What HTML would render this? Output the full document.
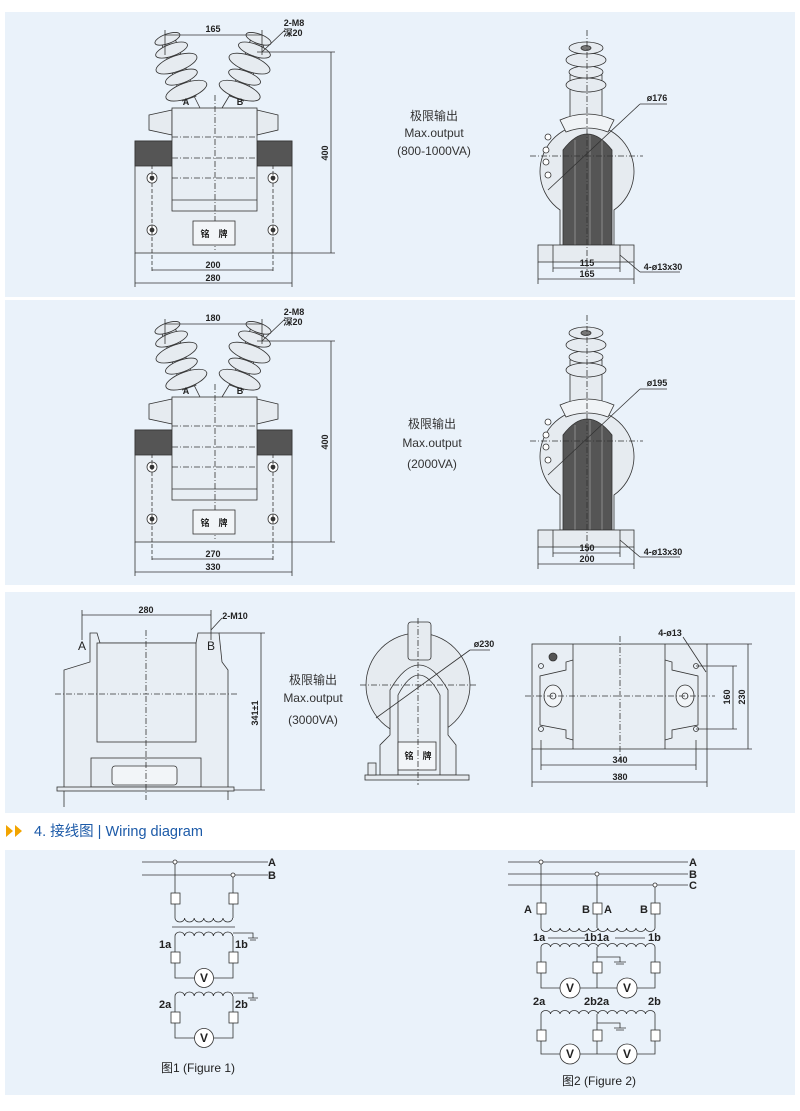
<!DOCTYPE html>
<html><head><meta charset="utf-8"><style>
body{margin:0;background:#fff;width:800px;height:1111px;overflow:hidden}
svg{display:block}
text{font-family:"Liberation Sans","Noto Sans CJK SC",sans-serif}
</style></head><body>
<svg width="800" height="1111" viewBox="0 0 800 1111" xmlns="http://www.w3.org/2000/svg">
<defs>
<g id="ins">
  <rect x="-6" y="-32" width="12" height="52" fill="#dfe4ea" stroke="#333" stroke-width="0.7"/>
  <ellipse cx="0" cy="13" rx="18" ry="6.5" fill="#e6ebf0" stroke="#333" stroke-width="0.7"/>
  <ellipse cx="0" cy="1" rx="14" ry="5" fill="#e6ebf0" stroke="#333" stroke-width="0.7"/>
  <ellipse cx="0" cy="-11" rx="18" ry="6.5" fill="#e6ebf0" stroke="#333" stroke-width="0.7"/>
  <ellipse cx="0" cy="-23" rx="14" ry="5" fill="#e6ebf0" stroke="#333" stroke-width="0.7"/>
  <ellipse cx="0" cy="-33" rx="11" ry="4" fill="#e6ebf0" stroke="#333" stroke-width="0.7"/>
</g>
<g id="front" stroke="#333" stroke-width="0.8" fill="none">
  <rect x="135" y="141" width="157" height="112" fill="#e8eef4"/>
  <rect x="135" y="141" width="37" height="25" fill="#555"/>
  <rect x="257" y="141" width="35" height="25" fill="#555"/>
  <path d="M149 115 L172 110 L172 135 L149 130 Z" fill="#e6ebf0"/>
  <path d="M278 115 L257 110 L257 135 L278 130 Z" fill="#e6ebf0"/>
  <line x1="200" y1="108" x2="190" y2="88"/><line x1="222" y1="108" x2="234" y2="88"/>
  <g transform="translate(181,76) rotate(-20) scale(1.2)"><use href="#ins"/></g>
  <g transform="translate(245,76) rotate(20) scale(1.2)"><use href="#ins"/></g>
  <rect x="172" y="108" width="85" height="103" fill="#e8eef4"/>
  <line x1="172" y1="137" x2="257" y2="137" stroke-dasharray="6 2 1 2"/>
  <line x1="172" y1="158" x2="257" y2="158" stroke-dasharray="6 2 1 2"/>
  <line x1="172" y1="178" x2="257" y2="178" stroke-dasharray="6 2 1 2"/>
  <line x1="172" y1="200" x2="257" y2="200"/>
  <line x1="215" y1="95" x2="215" y2="250" stroke-dasharray="6 2 1 2"/>
  <g fill="#fff">
  <circle cx="152" cy="178" r="5"/><circle cx="273" cy="178" r="5"/>
  <circle cx="152" cy="230" r="5"/><circle cx="273" cy="230" r="5"/></g>
  <circle cx="152" cy="178" r="2" fill="#333"/><circle cx="273" cy="178" r="2" fill="#333"/>
  <circle cx="152" cy="230" r="2" fill="#333"/><circle cx="273" cy="230" r="2" fill="#333"/>
  <line x1="152" y1="165" x2="152" y2="272" stroke-dasharray="4 2"/>
  <line x1="273" y1="165" x2="273" y2="272" stroke-dasharray="4 2"/>
  <rect x="193" y="221" width="42" height="24" fill="#f2f5f8"/>
  <line x1="135" y1="253" x2="135" y2="287"/><line x1="292" y1="253" x2="292" y2="287"/>
  <line x1="257" y1="52" x2="335" y2="52"/><line x1="292" y1="253" x2="335" y2="253"/>
  <line x1="331" y1="52" x2="331" y2="253"/>
  <line x1="165" y1="30" x2="165" y2="55"/><line x1="262" y1="30" x2="262" y2="55"/>
  <line x1="165" y1="35" x2="262" y2="35"/>
  <line x1="262" y1="52" x2="285" y2="30"/>
  <line x1="152" y1="270" x2="273" y2="270"/>
  <line x1="135" y1="283" x2="292" y2="283"/>
</g>
<g id="side" stroke="#333" stroke-width="0.8" fill="none">
  <path d="M570 125 L570 75 L602 75 L602 125" fill="#e6ebf0"/>
  <ellipse cx="586" cy="85" rx="20" ry="7" fill="#e6ebf0"/>
  <ellipse cx="586" cy="72" rx="17" ry="6" fill="#e6ebf0"/>
  <ellipse cx="586" cy="60" rx="20" ry="7" fill="#e6ebf0"/>
  <ellipse cx="586" cy="48" rx="17" ry="6" fill="#e6ebf0"/>
  <ellipse cx="586" cy="48" rx="5" ry="2.5" fill="#777"/>
  <path d="M560 210 A47 47 0 1 1 614 210 L614 245 L560 245 Z" fill="#e6ebf0"/>
  <path d="M560 120 Q587 108 614 120 L608 132 Q587 124 566 132 Z" fill="#f0f3f6"/>
  <path d="M563 245 L563 150 Q587 118 612 150 L612 245 Z" fill="#555"/>
  <line x1="575" y1="140" x2="575" y2="245" stroke="#999"/><line x1="590" y1="135" x2="590" y2="245" stroke="#999"/><line x1="602" y1="140" x2="602" y2="245" stroke="#999"/>
  <rect x="538" y="245" width="96" height="17" fill="#e6ebf0"/>
  <circle cx="548" cy="137" r="3" fill="#fff"/><circle cx="546" cy="150" r="3" fill="#fff"/><circle cx="546" cy="162" r="3" fill="#fff"/><circle cx="548" cy="175" r="3" fill="#fff"/>
  <line x1="530" y1="156" x2="643" y2="156" stroke-dasharray="6 2 1 2"/>
  <line x1="587" y1="30" x2="587" y2="270" stroke-dasharray="6 2 1 2"/>
  <line x1="548" y1="190" x2="640" y2="104"/><line x1="640" y1="104" x2="667" y2="104"/>
  <line x1="553" y1="245" x2="553" y2="272"/><line x1="620" y1="245" x2="620" y2="272"/>
  <line x1="538" y1="262" x2="538" y2="284"/><line x1="634" y1="262" x2="634" y2="284"/>
  <line x1="553" y1="268" x2="620" y2="268"/><line x1="538" y1="279" x2="634" y2="279"/>
  <line x1="620" y1="255" x2="640" y2="272"/><line x1="640" y1="272" x2="680" y2="272"/>
</g>
</defs>

<rect x="5" y="12" width="790" height="285" fill="#eaf2fa"/>
<rect x="5" y="300" width="790" height="285" fill="#eaf2fa"/>
<rect x="5" y="592" width="790" height="221" fill="#eaf2fa"/>
<rect x="5" y="850" width="790" height="245" fill="#eaf2fa"/>

<use href="#front"/>
<use href="#side"/>
<g transform="translate(0,289)"><use href="#front"/></g>
<g transform="translate(0,285)"><use href="#side"/></g>

<g font-size="9" font-weight="bold" fill="#222" text-anchor="middle">
<text x="213" y="32">165</text><text x="294" y="26">2-M8</text><text x="293" y="36">深20</text>
<text x="186" y="105" font-size="9">A</text><text x="240" y="105" font-size="9">B</text>
<text x="213" y="268">200</text><text x="213" y="281">280</text>
<text x="328" y="153" transform="rotate(-90 328 153)">400</text>
<text x="214" y="237">铭　牌</text>
<text x="657" y="101">ø176</text><text x="587" y="266">115</text><text x="587" y="277">165</text><text x="663" y="270">4-ø13x30</text>

<text x="213" y="321">180</text><text x="294" y="315">2-M8</text><text x="293" y="325">深20</text>
<text x="186" y="394">A</text><text x="240" y="394">B</text>
<text x="213" y="557">270</text><text x="213" y="570">330</text>
<text x="328" y="442" transform="rotate(-90 328 442)">400</text>
<text x="214" y="526">铭　牌</text>
<text x="657" y="386">ø195</text><text x="587" y="551">150</text><text x="587" y="562">200</text><text x="663" y="555">4-ø13x30</text>
</g>
<g font-size="12" fill="#333" text-anchor="middle">
<text x="434" y="120">极限输出</text><text x="434" y="137">Max.output</text><text x="434" y="155">(800-1000VA)</text>
<text x="432" y="428">极限输出</text><text x="432" y="447">Max.output</text><text x="432" y="468">(2000VA)</text>
<text x="313" y="684">极限输出</text><text x="313" y="702">Max.output</text><text x="313" y="724">(3000VA)</text>
</g>

<g stroke="#333" stroke-width="0.8" fill="none">
  <path d="M64 787 L64 670 L90 662 L90 633 L97 633 L100 643 L196 643 L198 633 L219 633 L222 662 L228 670 L228 787" fill="#e8eef4"/>
  <line x1="64" y1="787" x2="64" y2="807"/><line x1="228" y1="787" x2="228" y2="800"/>
  <rect x="97" y="643" width="99" height="99" fill="#e8eef4"/>
  <rect x="91" y="758" width="110" height="29" fill="#e8eef4"/>
  <rect x="112" y="766" width="65" height="19" rx="3" fill="#f2f5f8"/>
  <rect x="57" y="787" width="177" height="4" fill="#e6ebf0"/>
  <line x1="55" y1="694" x2="237" y2="694" stroke-dasharray="6 2 1 2"/>
  <line x1="146" y1="630" x2="146" y2="800" stroke-dasharray="6 2 1 2"/>
  <line x1="82" y1="610" x2="82" y2="640"/><line x1="211" y1="610" x2="211" y2="640"/>
  <line x1="82" y1="615" x2="211" y2="615"/><line x1="211" y1="630" x2="222" y2="618"/>
  <line x1="219" y1="633" x2="265" y2="633"/><line x1="234" y1="790" x2="265" y2="790"/>
  <line x1="261" y1="633" x2="261" y2="790"/>

  <circle cx="418" cy="685" r="52" fill="#e6ebf0"/>
  <path d="M380 775 L380 745 L390 735 L390 690 Q419 640 448 690 L448 735 L456 745 L456 775 Z" fill="#e8eef4"/>
  <path d="M398 775 L398 695 Q419 655 440 695 L440 775" fill="none"/>
  <rect x="408" y="622" width="23" height="38" rx="3" fill="#e6ebf0"/>
  <rect x="398" y="742" width="38" height="28" fill="#f2f5f8"/>
  <rect x="365" y="775" width="104" height="5" fill="#e6ebf0"/>
  <rect x="368" y="763" width="8" height="12" fill="#e6ebf0"/>
  <line x1="360" y1="685" x2="478" y2="685" stroke-dasharray="6 2 1 2"/>
  <line x1="418" y1="618" x2="418" y2="785" stroke-dasharray="6 2 1 2"/>
  <line x1="376" y1="718" x2="470" y2="650"/><line x1="470" y1="650" x2="490" y2="650"/>

  <rect x="532" y="644" width="175" height="105" fill="#e8eef4"/>
  <line x1="573" y1="644" x2="573" y2="749"/><line x1="665" y1="644" x2="665" y2="749"/>
  <path d="M573 660 L566 662 L566 670 L540 676 L540 725 L566 730 L566 738 L573 740" fill="none"/>
  <path d="M665 660 L672 662 L672 670 L698 676 L698 725 L672 730 L672 738 L665 740" fill="none"/>
  <ellipse cx="553" cy="696" rx="9" ry="11" fill="#f2f5f8"/><ellipse cx="685" cy="696" rx="9" ry="11" fill="#f2f5f8"/>
  <circle cx="553" cy="696" r="3"/><circle cx="685" cy="696" r="3"/>
  <circle cx="553" cy="657" r="4" fill="#555"/>
  <circle cx="541" cy="666" r="2.5"/><circle cx="696" cy="666" r="2.5"/><circle cx="541" cy="729" r="2.5"/><circle cx="696" cy="729" r="2.5"/>
  <line x1="525" y1="696" x2="715" y2="696" stroke-dasharray="6 2 1 2"/>
  <line x1="620" y1="636" x2="620" y2="760" stroke-dasharray="6 2 1 2"/>
  <line x1="541" y1="740" x2="541" y2="770"/><line x1="696" y1="740" x2="696" y2="770"/>
  <line x1="541" y1="765" x2="696" y2="765"/>
  <line x1="532" y1="749" x2="532" y2="787"/><line x1="707" y1="749" x2="707" y2="787"/>
  <line x1="532" y1="782" x2="707" y2="782"/>
  <line x1="696" y1="666" x2="737" y2="666"/><line x1="696" y1="729" x2="737" y2="729"/><line x1="733" y1="666" x2="733" y2="729"/>
  <line x1="707" y1="644" x2="752" y2="644"/><line x1="707" y1="749" x2="752" y2="749"/><line x1="748" y1="644" x2="748" y2="749"/>
  <line x1="683" y1="637" x2="706" y2="672"/>
</g>
<g font-size="9" font-weight="bold" fill="#222" text-anchor="middle">
<text x="146" y="613">280</text><text x="235" y="619">2-M10</text>
<text x="258" y="713" transform="rotate(-90 258 713)">341±1</text>
<text x="418" y="759">铭　牌</text><text x="484" y="647">ø230</text>
<text x="620" y="763">340</text><text x="620" y="780">380</text><text x="670" y="636">4-ø13</text>
<text x="730" y="697" transform="rotate(-90 730 697)">160</text><text x="745" y="697" transform="rotate(-90 745 697)">230</text>
</g>
<g font-size="12" fill="#222" text-anchor="middle"><text x="82" y="650">A</text><text x="211" y="650">B</text></g>

<path d="M6 825 L13 831 L6 837 Z M15 825 L22 831 L15 837 Z" fill="#f2a400"/>
<text x="34" y="836" font-size="14.5" fill="#1c5aa8">4.  接线图 | Wiring diagram</text>

<g stroke="#333" stroke-width="0.8" fill="none">
  <line x1="142" y1="862" x2="268" y2="862"/><line x1="142" y1="875" x2="268" y2="875"/>
  <circle cx="175" cy="862" r="2" fill="#fff"/><circle cx="233" cy="875" r="2" fill="#fff"/>
  <line x1="175" y1="864" x2="175" y2="918"/><line x1="233" y1="877" x2="233" y2="918"/>
  <rect x="171" y="893" width="9" height="11" fill="#fff"/><rect x="229" y="893" width="9" height="11" fill="#fff"/>
  <path d="M175 918 a4.8 4 0 0 0 9.6 0 a4.8 4 0 0 0 9.6 0 a4.8 4 0 0 0 9.6 0 a4.8 4 0 0 0 9.6 0 a4.8 4 0 0 0 9.6 0 a4.8 4 0 0 0 9.6 0"/>
  <line x1="172" y1="927" x2="235" y2="927"/>
  <path d="M175 936 a4.8 4 0 0 1 9.6 0 a4.8 4 0 0 1 9.6 0 a4.8 4 0 0 1 9.6 0 a4.8 4 0 0 1 9.6 0 a4.8 4 0 0 1 9.6 0 a4.8 4 0 0 1 9.6 0"/>
  <path d="M175 936 L175 978 L195 978 M214 978 L233 978 L233 936 M233 933 L253 933 L253 938 M248 938 L258 938 M250 940 L256 940"/>
  <rect x="171" y="952" width="9" height="11" fill="#fff"/><rect x="229" y="952" width="9" height="11" fill="#fff"/>
  <circle cx="204" cy="978" r="9.5" fill="#fff"/>
  <path d="M175 996 a4.8 4 0 0 1 9.6 0 a4.8 4 0 0 1 9.6 0 a4.8 4 0 0 1 9.6 0 a4.8 4 0 0 1 9.6 0 a4.8 4 0 0 1 9.6 0 a4.8 4 0 0 1 9.6 0"/>
  <path d="M175 996 L175 1038 L195 1038 M214 1038 L233 1038 L233 996 M233 993 L253 993 L253 998 M248 998 L258 998 M250 1000 L256 1000"/>
  <rect x="171" y="1012" width="9" height="11" fill="#fff"/><rect x="229" y="1012" width="9" height="11" fill="#fff"/>
  <circle cx="204" cy="1038" r="9.5" fill="#fff"/>
</g>
<g font-size="11" font-weight="bold" fill="#222">
<text x="268" y="866">A</text><text x="268" y="879">B</text>
<text x="159" y="948">1a</text><text x="235" y="948">1b</text><text x="159" y="1008">2a</text><text x="235" y="1008">2b</text>
<text x="204" y="982" text-anchor="middle" font-size="12">V</text><text x="204" y="1042" text-anchor="middle" font-size="12">V</text>
</g>
<text x="198" y="1072" font-size="12" fill="#222" text-anchor="middle">图1 (Figure 1)</text>

<g stroke="#333" stroke-width="0.8" fill="none">
  <line x1="508" y1="862" x2="688" y2="862"/><line x1="508" y1="874" x2="688" y2="874"/><line x1="508" y1="885" x2="688" y2="885"/>
  <circle cx="541" cy="862" r="2" fill="#fff"/><circle cx="597" cy="874" r="2" fill="#fff"/><circle cx="655" cy="885" r="2" fill="#fff"/>
  <line x1="541" y1="864" x2="541" y2="928"/><line x1="597" y1="876" x2="597" y2="928"/><line x1="655" y1="887" x2="655" y2="928"/>
  <rect x="537" y="903" width="9" height="11" fill="#fff"/><rect x="593" y="903" width="9" height="11" fill="#fff"/><rect x="651" y="903" width="9" height="11" fill="#fff"/>
  <path d="M541 928 a4.75 3.5 0 0 0 9.5 0 a4.75 3.5 0 0 0 9.5 0 a4.75 3.5 0 0 0 9.5 0 a4.75 3.5 0 0 0 9.5 0 a4.75 3.5 0 0 0 9.5 0 a4.75 3.5 0 0 0 9.5 0 a4.75 3.5 0 0 0 9.5 0 a4.75 3.5 0 0 0 9.5 0 a4.75 3.5 0 0 0 9.5 0 a4.75 3.5 0 0 0 9.5 0 a4.75 3.5 0 0 0 9.5 0 a4.75 3.5 0 0 0 9.5 0"/>
  <line x1="548" y1="938" x2="585" y2="938"/><line x1="615" y1="938" x2="645" y2="938"/>
  <path d="M541 947 a4.75 3.5 0 0 1 9.5 0 a4.75 3.5 0 0 1 9.5 0 a4.75 3.5 0 0 1 9.5 0 a4.75 3.5 0 0 1 9.5 0 a4.75 3.5 0 0 1 9.5 0 a4.75 3.5 0 0 1 9.5 0 a4.75 3.5 0 0 1 9.5 0 a4.75 3.5 0 0 1 9.5 0 a4.75 3.5 0 0 1 9.5 0 a4.75 3.5 0 0 1 9.5 0 a4.75 3.5 0 0 1 9.5 0 a4.75 3.5 0 0 1 9.5 0"/>
  <path d="M541 947 L541 988 L560 988 M580 988 L617 988 M637 988 L655 988 L655 947 M597 947 L597 988 M597 957 L620 957 L620 962 M614 962 L626 962 M616 964 L624 964"/>
  <rect x="537" y="962" width="9" height="11" fill="#fff"/><rect x="593" y="962" width="9" height="11" fill="#fff"/><rect x="651" y="962" width="9" height="11" fill="#fff"/>
  <circle cx="570" cy="988" r="10" fill="#fff"/><circle cx="627" cy="988" r="10" fill="#fff"/>
  <path d="M541 1014 a4.75 3.5 0 0 1 9.5 0 a4.75 3.5 0 0 1 9.5 0 a4.75 3.5 0 0 1 9.5 0 a4.75 3.5 0 0 1 9.5 0 a4.75 3.5 0 0 1 9.5 0 a4.75 3.5 0 0 1 9.5 0 a4.75 3.5 0 0 1 9.5 0 a4.75 3.5 0 0 1 9.5 0 a4.75 3.5 0 0 1 9.5 0 a4.75 3.5 0 0 1 9.5 0 a4.75 3.5 0 0 1 9.5 0 a4.75 3.5 0 0 1 9.5 0"/>
  <path d="M541 1014 L541 1054 L560 1054 M580 1054 L617 1054 M637 1054 L655 1054 L655 1014 M597 1014 L597 1054 M597 1023 L620 1023 L620 1028 M614 1028 L626 1028 M616 1030 L624 1030"/>
  <rect x="537" y="1030" width="9" height="11" fill="#fff"/><rect x="593" y="1030" width="9" height="11" fill="#fff"/><rect x="651" y="1030" width="9" height="11" fill="#fff"/>
  <circle cx="570" cy="1054" r="10" fill="#fff"/><circle cx="627" cy="1054" r="10" fill="#fff"/>
</g>
<g font-size="11" font-weight="bold" fill="#222">
<text x="689" y="866">A</text><text x="689" y="878">B</text><text x="689" y="889">C</text>
<text x="524" y="913">A</text><text x="582" y="913">B</text><text x="604" y="913">A</text><text x="640" y="913">B</text>
<text x="533" y="941">1a</text><text x="584" y="941">1b1a</text><text x="648" y="941">1b</text>
<text x="533" y="1005">2a</text><text x="584" y="1005">2b2a</text><text x="648" y="1005">2b</text>
<g text-anchor="middle" font-size="12"><text x="570" y="992">V</text><text x="627" y="992">V</text><text x="570" y="1058">V</text><text x="627" y="1058">V</text></g>
</g>
<text x="599" y="1085" font-size="12" fill="#222" text-anchor="middle">图2 (Figure 2)</text>
</svg>
</body></html>
